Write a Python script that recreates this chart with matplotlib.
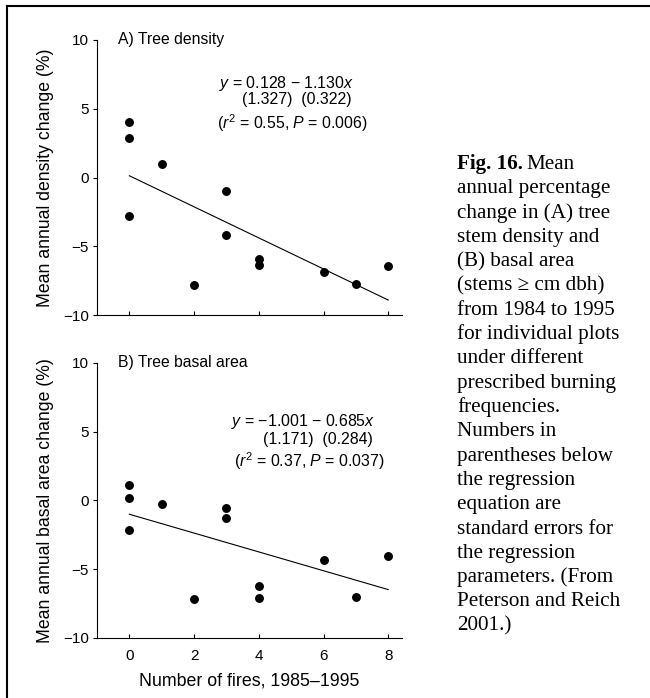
import numpy as np
import matplotlib.pyplot as plt
from matplotlib.lines import Line2D

plt.rcParams['font.family'] = ['Liberation Sans', 'DejaVu Sans']
plt.rcParams['mathtext.fontset'] = 'custom'
plt.rcParams['mathtext.rm'] = 'Liberation Sans'
plt.rcParams['mathtext.it'] = 'Liberation Sans:italic'

# number of fires per plot, 1985-1995
fires_a = [0, 0, 0, 1, 2, 3, 3, 4, 4, 6, 7, 8]
fires_b = [0, 0, 0, 1, 2, 3, 3, 4, 4, 6, 7, 8]

density_change = [4.0, 2.9, -2.8, 1.0, -7.85, -0.95, -4.15, -5.95, -6.35, -6.9, -7.75, -6.4]
basal_change = [1.15, 0.15, -2.15, -0.25, -7.15, -0.55, -1.25, -6.2, -7.1, -4.35, -7.0, -4.05]

# regression fits (intercept, slope)
fit_a = (0.128, -1.130)
fit_b = (-1.001, -0.685)
fit_x = [0, 8]

eq_a = [r"$y$ = 0.128 $-$ 1.130$x$", "(1.327)  (0.322)",
        r"($r^2$ = 0.55, $P$ = 0.006)"]
eq_b = [r"$y$ = $-$1.001 $-$ 0.685$x$", "(1.171)  (0.284)",
        r"($r^2$ = 0.37, $P$ = 0.037)"]

caption = ["annual percentage", "change in (A) tree", "stem density and",
           "(B) basal area", "(stems \u2265 cm dbh)", "from 1984 to 1995",
           "for individual plots", "under different", "prescribed burning",
           "frequencies.", "Numbers in", "parentheses below",
           "the regression", "equation are", "standard errors for",
           "the regression", "parameters. (From", "Peterson and Reich",
           "2001.)"]

fig = plt.figure(figsize=(6.5, 6.98), dpi=100)
ax_a = fig.add_axes([0.1492, 0.5487, 0.469, 0.394])
ax_b = fig.add_axes([0.1492, 0.086, 0.469, 0.394])


def draw_panel(ax, xs, ys, fit, eq, eq_pos, title, ylabel, show_xlabels):
    ax.plot(xs, ys, 'o', color='black', markersize=5.4, zorder=3)
    fx = np.array(fit_x, dtype=float)
    ax.plot(fx, fit[0] + fit[1] * fx, color='black', linewidth=0.8)
    ax.set_xlim(-1.0, 8.42)
    ax.set_ylim(-10, 10)
    ax.set_yticks([-10, -5, 0, 5, 10])
    ax.set_yticklabels(['\u221210', '\u22125', '0', '5', '10'])
    ax.set_xticks([0, 2, 4, 6, 8])
    for side in ['top', 'right']:
        ax.spines[side].set_visible(False)
    for side in ['left', 'bottom']:
        ax.spines[side].set_linewidth(0.8)
    ax.tick_params(axis='y', direction='out', length=3, width=0.8,
                   labelsize=11, pad=3)
    ax.tick_params(axis='x', direction='in', length=3, width=0.8,
                   labelsize=11, pad=8)
    if not show_xlabels:
        ax.set_xticklabels([])
    ax.set_ylabel(ylabel, fontsize=12.7, labelpad=6)
    ax.text(-0.34, 10.0, title, fontsize=11.3, va='center', ha='left')
    for line, (x, y) in zip(eq, eq_pos):
        ax.text(x, y, line, fontsize=11.4, ha='center', va='center')


draw_panel(ax_a, fires_a, density_change, fit_a, eq_a,
           [(4.85, 6.87), (5.19, 5.64), (5.03, 3.94)],
           "A) Tree density", "Mean annual density change (%)", False)
draw_panel(ax_b, fires_b, basal_change, fit_b, eq_b,
           [(5.38, 5.75), (5.84, 4.42), (5.56, 2.85)],
           "B) Tree basal area", "Mean annual basal area change (%)", True)
ax_b.set_xlabel("Number of fires, 1985\u20131995", fontsize=12.8, labelpad=7)

# caption block on the right, one text per line
cap_font = ['Liberation Serif', 'DejaVu Serif']
cap_size = 15.2
cap_x = 457 / 650
y0 = 1 - 169 / 698
step = 24.3 / 698
head = fig.text(cap_x, y0, "Fig. 16.", family=cap_font, fontsize=cap_size,
                fontweight='bold', va='baseline', ha='left')
fig.canvas.draw()
bb = head.get_window_extent().transformed(fig.transFigure.inverted())
fig.text(bb.x1 + 0.006, y0, "Mean", family=cap_font, fontsize=cap_size,
         va='baseline', ha='left')
for i, line in enumerate(caption):
    fig.text(cap_x, y0 - (i + 1) * step, line, family=cap_font,
             fontsize=cap_size, va='baseline', ha='left')

# frame lines along the top and left edges
fig.add_artist(Line2D([7 / 650, 7 / 650], [0, 1 - 6 / 698],
                      transform=fig.transFigure, color='black', linewidth=1.5))
fig.add_artist(Line2D([7 / 650, 1], [1 - 6 / 698, 1 - 6 / 698],
                      transform=fig.transFigure, color='black', linewidth=1.5))

fig.savefig('out.png', dpi=100)
